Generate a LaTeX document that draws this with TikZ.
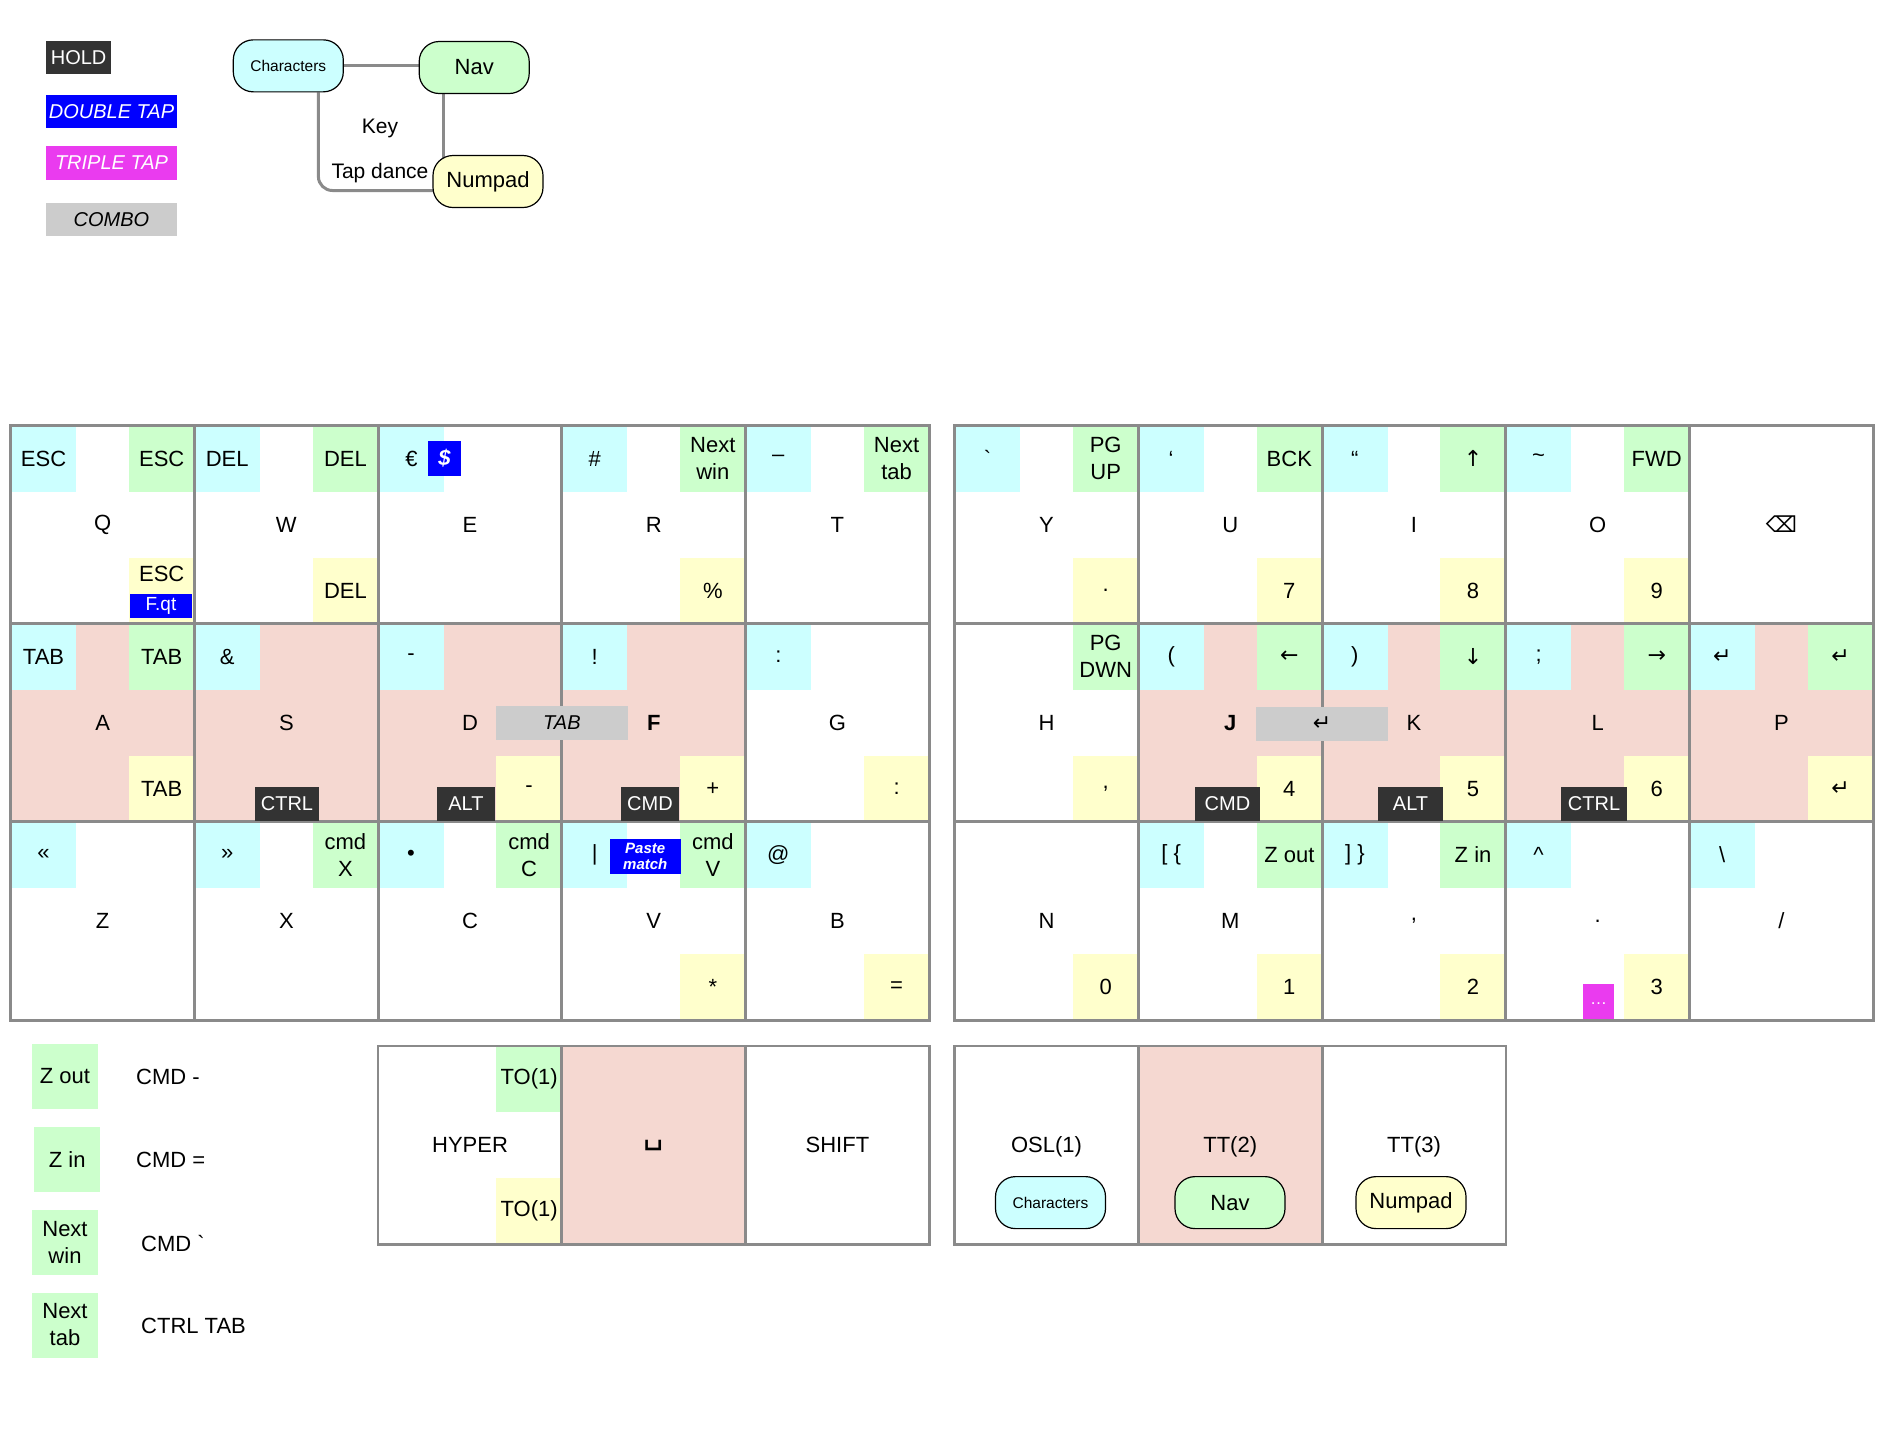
\documentclass[tikz,border=0pt]{standalone}
\usepackage{fontspec}
\setmainfont{Liberation Sans}
\newfontfamily\symf{DejaVu Sans}
\newfontfamily\rawf{Liberation Sans}
\usetikzlibrary{backgrounds}
\definecolor{cyanc}{HTML}{CCFFFF}
\definecolor{greenc}{HTML}{CCFFCC}
\definecolor{yellowc}{HTML}{FFFFCC}
\definecolor{pinkc}{HTML}{F5D8D1}
\definecolor{holdc}{HTML}{333333}
\definecolor{bluec}{HTML}{0000FF}
\definecolor{magc}{HTML}{EA3BEF}
\definecolor{comboc}{HTML}{CCCCCC}
\definecolor{gridc}{HTML}{8A8A8A}
\definecolor{connc}{HTML}{8A8A8A}
\newcommand\keycell[5]{\node[cellbx,fill=#4] (#1) at ({#2+91.85},{#3+99.1}) {#5};}
\newcommand\cyb[4]{\node[cbx] (#1-c) at ({#2+32.75},{#3+33}) {#4};}
\newcommand\grb[4]{\node[gbx] (#1-g) at ({#2+150.95},{#3+33}) {#4};}
\newcommand\yeb[4]{\node[ybx] (#1-y) at ({#2+150.95},{#3+165.2}) {#4};}
\newcommand\gravech{{\rawf\char96}}
\tikzset{
  base/.style={inner sep=0pt, align=center, font=\fontsize{22}{27}\selectfont},
  cellbx/.style={base, minimum width=183.7pt, minimum height=198.2pt},
  cornerbx/.style={base, minimum width=65.5pt, minimum height=66pt},
  cbx/.style={cornerbx, fill=cyanc},
  gbx/.style={cornerbx, fill=greenc},
  ybx/.style={cornerbx, fill=yellowc},
  holdbx/.style={base, fill=holdc, text=white, minimum height=34pt, font=\fontsize{20}{24}\selectfont},
  combobx/.style={base, fill=comboc, minimum height=34pt, minimum width=131.5pt, font=\fontsize{20}{24}\selectfont\itshape},
  gridln/.style={draw=gridc, line width=2.5pt},
  pill/.style={base, draw=black, line width=1.2pt, rounded corners=20pt, minimum width=110pt, minimum height=52pt},
  conn/.style={draw=connc, line width=3pt},
  legbx/.style={base, minimum height=33.5pt, font=\fontsize{20}{24}\selectfont},
  legtxt/.style={base, anchor=west},
}
\begin{document}
\begin{tikzpicture}[x=1pt,y=-1pt]
\useasboundingbox (0,0) rectangle (1890,1436);

% ---------- legend top-left
\node[legbx, fill=holdc, text=white, minimum width=65.6pt] (lhold) at (78.6,57.3) {HOLD};
\node[legbx, fill=bluec, text=white, minimum width=131.4pt, font=\fontsize{20}{24}\selectfont\itshape] (ldbl) at (111.5,111.5) {DOUBLE TAP};
\node[legbx, fill=magc, text=white, minimum width=131.4pt, font=\fontsize{20}{24}\selectfont\itshape] (ltri) at (111.5,163) {TRIPLE TAP};
\node[legbx, fill=comboc, text=black, minimum width=131.4pt, font=\fontsize{20}{24}\selectfont\itshape] (lcombo) at (111.5,219.5) {COMBO};

% ---------- layer key diagram
\node[pill, fill=cyanc, font=\fontsize{15.5}{18}\selectfont] (lchars) at (288.3,65.85) {Characters};
\node[pill, fill=greenc] (lnav) at (474.2,67.5) {Nav};
\node[pill, fill=yellowc] (lnum) at (488,181.5) {Numpad};
\coordinate (cx) at (318.4,0);
\coordinate (nx) at (443,0);
\begin{scope}[on background layer]
\draw[conn] (lchars.east) -- (lchars.east -| lnav.west);
\draw[conn] (lnav.south -| nx) -- ([yshift=-6pt]lnum.north -| nx);
\draw[conn, rounded corners=14pt] (lchars.south -| cx) |- ([yshift=-9pt, xshift=8pt]lnum.west);
\end{scope}
\node[base, font=\fontsize{21}{25}\selectfont] (lkey) at (380,128.3) {Key};
\node[base, font=\fontsize{21}{25}\selectfont] (ltap) at (380,172.7) {Tap dance};

% ---------- left block, row 0
\keycell{kQ}{10.8}{425.5}{white}{Q}
\cyb{kQ}{10.8}{425.5}{ESC}\grb{kQ}{10.8}{425.5}{ESC}\yeb{kQ}{10.8}{425.5}{}
\keycell{kW}{194.5}{425.5}{white}{W}
\cyb{kW}{194.5}{425.5}{DEL}\grb{kW}{194.5}{425.5}{\raisebox{-3pt}{DEL}}\yeb{kW}{194.5}{425.5}{DEL}
\keycell{kE}{378.2}{425.5}{white}{E}
\cyb{kE}{378.2}{425.5}{}
\keycell{kR}{561.9}{425.5}{white}{R}
\cyb{kR}{561.9}{425.5}{\#}\grb{kR}{561.9}{425.5}{Next\\win}\yeb{kR}{561.9}{425.5}{\%}
\keycell{kT}{745.6}{425.5}{white}{T}
\cyb{kT}{745.6}{425.5}{\raisebox{-6pt}{–}}\grb{kT}{745.6}{425.5}{Next\\tab}
% row 1
\keycell{kA}{10.8}{623.7}{pinkc}{A}
\cyb{kA}{10.8}{623.7}{TAB}\grb{kA}{10.8}{623.7}{TAB}\yeb{kA}{10.8}{623.7}{TAB}
\keycell{kS}{194.5}{623.7}{pinkc}{S}
\cyb{kS}{194.5}{623.7}{\&}
\keycell{kD}{378.2}{623.7}{pinkc}{D}
\cyb{kD}{378.2}{623.7}{-}\yeb{kD}{378.2}{623.7}{-}
\keycell{kF}{561.9}{623.7}{pinkc}{\textbf{F}}
\cyb{kF}{561.9}{623.7}{!}\yeb{kF}{561.9}{623.7}{+}
\keycell{kG}{745.6}{623.7}{white}{G}
\cyb{kG}{745.6}{623.7}{:}\yeb{kG}{745.6}{623.7}{:}
% row 2
\keycell{kZ}{10.8}{821.9}{white}{Z}
\cyb{kZ}{10.8}{821.9}{«}
\keycell{kX}{194.5}{821.9}{white}{X}
\cyb{kX}{194.5}{821.9}{»}\grb{kX}{194.5}{821.9}{cmd\\X}
\keycell{kC}{378.2}{821.9}{white}{C}
\cyb{kC}{378.2}{821.9}{•}\grb{kC}{378.2}{821.9}{cmd\\C}
\keycell{kV}{561.9}{821.9}{white}{V}
\cyb{kV}{561.9}{821.9}{|}\grb{kV}{561.9}{821.9}{cmd\\V}\yeb{kV}{561.9}{821.9}{*}
\keycell{kB}{745.6}{821.9}{white}{B}
\cyb{kB}{745.6}{821.9}{@}\yeb{kB}{745.6}{821.9}{=}

% ---------- right block, row 0
\keycell{kY}{954.7}{425.5}{white}{Y}
\cyb{kY}{954.7}{425.5}{\gravech}\grb{kY}{954.7}{425.5}{PG\\UP}\yeb{kY}{954.7}{425.5}{.}
\keycell{kU}{1138.4}{425.5}{white}{U}
\cyb{kU}{1138.4}{425.5}{‘}\grb{kU}{1138.4}{425.5}{BCK}\yeb{kU}{1138.4}{425.5}{7}
\keycell{kI}{1322.1}{425.5}{white}{I}
\cyb{kI}{1322.1}{425.5}{“}\grb{kI}{1322.1}{425.5}{{\symf ↑}}\yeb{kI}{1322.1}{425.5}{8}
\keycell{kO}{1505.8}{425.5}{white}{O}
\cyb{kO}{1505.8}{425.5}{\textasciitilde}\grb{kO}{1505.8}{425.5}{FWD}\yeb{kO}{1505.8}{425.5}{9}
\keycell{kBksp}{1689.5}{425.5}{white}{{\symf ⌫}}
% row 1
\keycell{kH}{954.7}{623.7}{white}{H}
\grb{kH}{954.7}{623.7}{PG\\DWN}\yeb{kH}{954.7}{623.7}{,}
\keycell{kJ}{1138.4}{623.7}{pinkc}{\textbf{J}}
\cyb{kJ}{1138.4}{623.7}{(}\grb{kJ}{1138.4}{623.7}{{\symf ←}}\yeb{kJ}{1138.4}{623.7}{4}
\keycell{kK}{1322.1}{623.7}{pinkc}{K}
\cyb{kK}{1322.1}{623.7}{)}\grb{kK}{1322.1}{623.7}{{\symf ↓}}\yeb{kK}{1322.1}{623.7}{5}
\keycell{kL}{1505.8}{623.7}{pinkc}{L}
\cyb{kL}{1505.8}{623.7}{;}\grb{kL}{1505.8}{623.7}{{\symf →}}\yeb{kL}{1505.8}{623.7}{6}
\keycell{kP}{1689.5}{623.7}{pinkc}{P}
\cyb{kP}{1689.5}{623.7}{{\symf ↵}}\grb{kP}{1689.5}{623.7}{{\symf ↵}}\yeb{kP}{1689.5}{623.7}{{\symf ↵}}
% row 2
\keycell{kN}{954.7}{821.9}{white}{N}
\yeb{kN}{954.7}{821.9}{0}
\keycell{kM}{1138.4}{821.9}{white}{M}
\cyb{kM}{1138.4}{821.9}{[ \{}\grb{kM}{1138.4}{821.9}{Z out}\yeb{kM}{1138.4}{821.9}{1}
\keycell{kComma}{1322.1}{821.9}{white}{,}
\cyb{kComma}{1322.1}{821.9}{] \}}\grb{kComma}{1322.1}{821.9}{Z in}\yeb{kComma}{1322.1}{821.9}{2}
\keycell{kDot}{1505.8}{821.9}{white}{.}
\cyb{kDot}{1505.8}{821.9}{\textasciicircum}\yeb{kDot}{1505.8}{821.9}{3}
\keycell{kSlash}{1689.5}{821.9}{white}{/}
\cyb{kSlash}{1689.5}{821.9}{\textbackslash}

% ---------- thumb clusters
\keycell{kHyper}{378.2}{1046}{white}{HYPER}
\grb{kHyper}{378.2}{1046}{TO(1)}\yeb{kHyper}{378.2}{1046}{TO(1)}
\keycell{kSpace}{561.9}{1046}{pinkc}{{\symf\fontsize{32}{34}\selectfont ␣}}
\keycell{kShift}{745.6}{1046}{white}{SHIFT}
\keycell{kOsl}{954.7}{1046}{white}{}
\keycell{kTTtwo}{1138.4}{1046}{pinkc}{}
\keycell{kTTthree}{1322.1}{1046}{white}{}
\node[base] (tosl) at (1046.5,1147) {OSL(1)};
\node[base] (ttt2) at (1230.2,1147) {TT(2)};
\node[base] (ttt3) at (1414,1147) {TT(3)};
\node[pill, fill=cyanc, font=\fontsize{15.5}{18}\selectfont] (tchars) at (1050.5,1202.6) {Characters};
\node[pill, fill=greenc] (tnav) at (1230,1202.6) {Nav};
\node[pill, fill=yellowc] (tnum) at (1411,1202.6) {Numpad};

% ---------- grid lines
\foreach \n in {kQ,kW,kE,kR,kT,kA,kS,kD,kF,kG,kZ,kX,kC,kV,kB,kY,kU,kI,kO,kBksp,kH,kJ,kK,kL,kP,kN,kM,kComma,kDot,kSlash,kHyper,kSpace,kShift,kOsl,kTTtwo,kTTthree}
  \draw[gridln] (\n.north west) rectangle (\n.south east);

% ---------- overlays: hold, combos, badges
\node[holdbx, minimum width=64pt] (hS) at (287,804) {CTRL};
\node[holdbx, minimum width=58pt] (hD) at (466,804) {ALT};
\node[holdbx, minimum width=58pt] (hF) at (650,804) {CMD};
\node[holdbx, minimum width=65pt] (hJ) at (1227.5,804) {CMD};
\node[holdbx, minimum width=65pt] (hK) at (1410.5,804) {ALT};
\node[holdbx, minimum width=66pt] (hL) at (1594,804) {CTRL};
\node[combobx] (cTab) at (561.9,722.5) {TAB};
\node[combobx, font=\fontsize{22}{24}\selectfont] (cEnt) at (1322.2,723.5) {{\symf ↵}};
\node[base] (qesc) at (161.75,574) {ESC};
\node[base, fill=bluec, text=white, minimum width=61.7pt, minimum height=24pt, font=\fontsize{19}{22}\selectfont] (bfqt) at (161,606) {F.qt};
\node[base] (eeuro) at (411.5,459) {€};
\node[base, fill=bluec, text=white, minimum width=33pt, minimum height=35pt, font=\fontsize{22}{24}\selectfont\bfseries\itshape] (bdollar) at (444.5,458.5) {\$};
\node[base, fill=bluec, text=white, minimum width=71.5pt, minimum height=35pt, font=\fontsize{15}{16}\selectfont\bfseries\itshape] (bpaste) at (645.25,856.5) {Paste\\match};
\node[base, fill=magc, text=white, minimum width=31pt, minimum height=35pt, font=\fontsize{17}{20}\selectfont] (bdots) at (1598.5,1001.5) {\raisebox{-5pt}{…}};

% ---------- legend bottom-left
\node[cornerbx, fill=greenc, minimum height=65pt] (gzout) at (65,1076.5) {Z out};
\node[legtxt] (tzout) at (136,1076.5) {CMD -};
\node[cornerbx, fill=greenc, minimum height=65pt] (gzin) at (67.2,1159.5) {Z in};
\node[legtxt] (tzin) at (136,1160) {CMD =};
\node[cornerbx, fill=greenc, minimum height=65pt] (gnwin) at (65,1242) {Next\\win};
\node[legtxt] (tnwin) at (141,1243) {CMD \gravech};
\node[cornerbx, fill=greenc, minimum height=65pt] (gntab) at (65,1325) {Next\\tab};
\node[legtxt] (tntab) at (141,1326) {CTRL TAB};
\end{tikzpicture}
\end{document}
